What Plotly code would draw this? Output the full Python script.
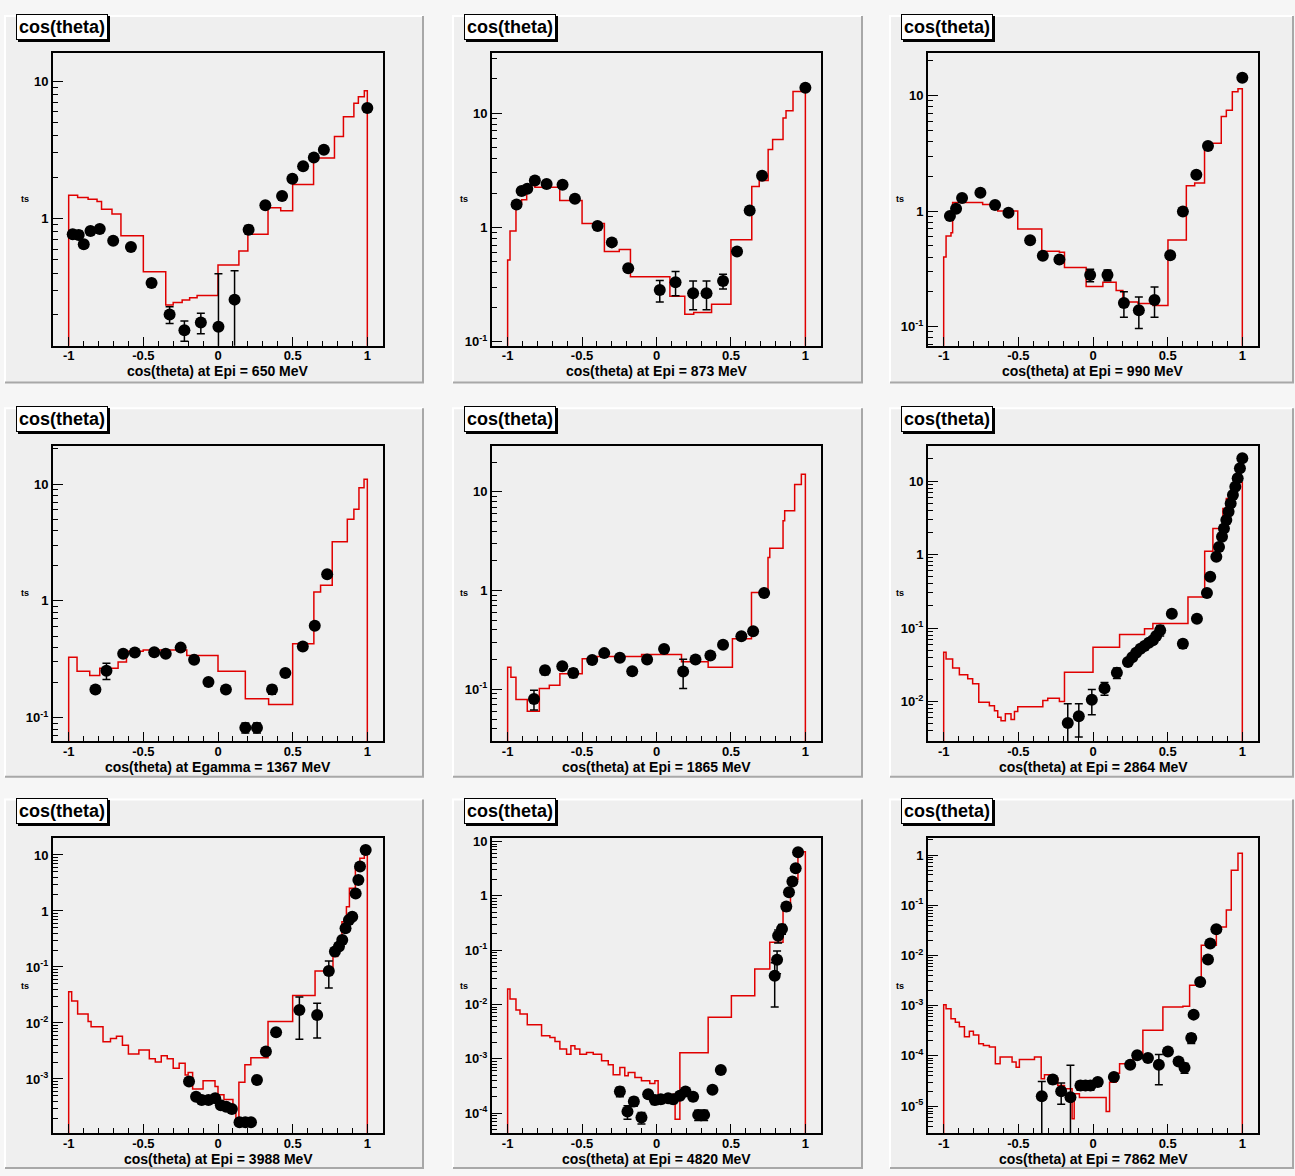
import math
import plotly.graph_objects as go

# ======================= DATA =======================
PAD_TITLE = "cos(theta)"
Y_AXIS_TITLE = "ts"
X_TITLES = [
    "cos(theta) at Epi = 650 MeV",
    "cos(theta) at Epi = 873 MeV",
    "cos(theta) at Epi = 990 MeV",
    "cos(theta) at Egamma = 1367 MeV",
    "cos(theta) at Epi = 1865 MeV",
    "cos(theta) at Epi = 2864 MeV",
    "cos(theta) at Epi = 3988 MeV",
    "cos(theta) at Epi = 4820 MeV",
    "cos(theta) at Epi = 7862 MeV",
]
X_TICKS = [-1, -0.5, 0, 0.5, 1]
X_TICK_TEXT = ["-1", "-0.5", "0", "0.5", "1"]
Y_DECADE_TEXT = {-5: "10<sup>-5</sup>", -4: "10<sup>-4</sup>", -3: "10<sup>-3</sup>",
                 -2: "10<sup>-2</sup>", -1: "10<sup>-1</sup>", 0: "1", 1: "10"}

# ---- panel 1 : Epi = 650 MeV
p1_edges = [-1, -0.94, -0.87, -0.81, -0.78, -0.71, -0.65, -0.5, -0.35, -0.30, -0.24, -0.19, -0.14,
            0.0, 0.14, 0.2, 0.335, 0.42, 0.5, 0.64, 0.78, 0.84, 0.91, 0.94, 0.98, 1.0]
p1_vals = [1.48, 1.42, 1.38, 1.33, 1.17, 1.08, 0.75, 0.41, 0.235, 0.245, 0.255, 0.265, 0.275,
           0.46, 0.58, 0.77, 1.2, 1.14, 1.77, 2.76, 3.96, 5.5, 6.9, 7.7, 8.5]
p1_x = [-0.973, -0.933, -0.899, -0.854, -0.792, -0.702, -0.583, -0.445, -0.324, -0.225, -0.115,
        0.003, 0.111, 0.205, 0.317, 0.429, 0.498, 0.570, 0.642, 0.709, 1.0]
p1_y = [0.77, 0.76, 0.65, 0.81, 0.84, 0.69, 0.62, 0.34, 0.20, 0.154, 0.175, 0.163, 0.257, 0.83,
        1.25, 1.46, 1.95, 2.40, 2.78, 3.17, 6.38]
p1_err = [0.05, 0.05, 0.04, 0.04, 0.04, 0.03, 0.03, 0.02, 0.028, 0.026, 0.03, 0.233, 0.16, 0.06,
          0.05, 0.05, 0.05, 0.05, 0.05, 0.05, 0.2]

# ---- panel 2 : Epi = 873 MeV
p2_edges = [-1, -0.984, -0.944, -0.906, -0.872, -0.85, -0.817, -0.65, -0.5, -0.35, -0.25, -0.175,
            0.09, 0.19, 0.25, 0.37, 0.5, 0.64, 0.69, 0.75, 0.78, 0.85, 0.87, 0.917, 1.0]
p2_vals = [0.52, 0.93, 1.61, 1.75, 2.1, 2.33, 2.25, 1.72, 1.08, 0.615, 0.64, 0.37, 0.25, 0.174,
           0.18, 0.213, 0.78, 2.28, 2.57, 4.8, 5.9, 9.1, 10.5, 15.5]
p2_x = [-0.940, -0.906, -0.868, -0.817, -0.738, -0.631, -0.548, -0.396, -0.300, -0.190, 0.022,
        0.128, 0.246, 0.336, 0.447, 0.541, 0.626, 0.709, 1.0]
p2_y = [1.59, 2.08, 2.18, 2.57, 2.40, 2.36, 1.78, 1.03, 0.74, 0.44, 0.283, 0.332, 0.265, 0.265,
        0.339, 0.615, 1.41, 2.84, 16.7]
p2_err = [0.1, 0.1, 0.1, 0.1, 0.1, 0.1, 0.08, 0.05, 0.04, 0.03, 0.06, 0.08, 0.075, 0.075, 0.05,
          0.04, 0.07, 0.15, 0.5]

# ---- panel 3 : Epi = 990 MeV
p3_edges = [-1, -0.984, -0.951, -0.940, -0.739, -0.638, -0.504, -0.343, -0.225, -0.191, -0.046,
            0.066, 0.155, 0.200, 0.301, 0.401, 0.502, 0.625, 0.681, 0.747, 0.859, 0.893, 0.933,
            0.971, 1.0]
p3_vals = [0.40, 0.61, 0.65, 1.19, 1.14, 1.0, 0.70, 0.45, 0.44, 0.325, 0.222, 0.242, 0.205, 0.163,
           0.158, 0.152, 0.563, 1.66, 1.75, 3.88, 6.6, 7.5, 10.8, 11.5]
p3_x = [-0.958, -0.917, -0.877, -0.754, -0.656, -0.566, -0.421, -0.336, -0.225, -0.019, 0.097,
        0.207, 0.307, 0.412, 0.517, 0.602, 0.692, 0.770, 1.0]
p3_y = [0.905, 1.05, 1.30, 1.44, 1.13, 0.97, 0.56, 0.41, 0.38, 0.279, 0.279, 0.160, 0.138, 0.170,
        0.415, 0.99, 2.07, 3.67, 14.3]
p3_err = [0.05, 0.05, 0.06, 0.06, 0.05, 0.04, 0.03, 0.025, 0.025, 0.035, 0.03, 0.04, 0.042, 0.05,
          0.03, 0.05, 0.1, 0.15, 0.5]

# ---- panel 4 : Egamma = 1367 MeV
p4_edges = [-1, -0.944, -0.859, -0.792, -0.669, -0.613, -0.501, -0.209, 0.0, 0.183, 0.339, 0.5,
            0.642, 0.687, 0.765, 0.866, 0.91, 0.944, 0.978, 1.0]
p4_vals = [0.33, 0.25, 0.23, 0.265, 0.30, 0.37, 0.38, 0.34, 0.25, 0.145, 0.13, 0.43, 1.19, 1.36,
           3.2, 5.0, 6.1, 9.3, 11.0]
p4_x = [-0.821, -0.747, -0.635, -0.557, -0.427, -0.350, -0.250, -0.160, -0.064, 0.053, 0.183,
        0.261, 0.362, 0.451, 0.568, 0.648, 0.731]
p4_y = [0.174, 0.252, 0.352, 0.361, 0.363, 0.352, 0.398, 0.313, 0.202, 0.174, 0.082, 0.082, 0.174,
        0.241, 0.406, 0.612, 1.69]
p4_err = [0.012, 0.04, 0.015, 0.015, 0.015, 0.015, 0.02, 0.02, 0.012, 0.012, 0.008, 0.008, 0.015,
          0.015, 0.02, 0.03, 0.08]

# ---- panel 5 : Epi = 1865 MeV
p5_edges = [-1, -0.978, -0.944, -0.868, -0.787, -0.72, -0.649, -0.499, -0.45, -0.40, -0.1, 0.168,
            0.347, 0.51, 0.638, 0.749, 0.761, 0.85, 0.861, 0.928, 0.973, 1.0]
p5_vals = [0.168, 0.133, 0.079, 0.060, 0.102, 0.110, 0.144, 0.204, 0.196, 0.215, 0.226, 0.19,
           0.168, 0.325, 0.96, 2.17, 2.68, 5.1, 6.43, 11.9, 15.1]
p5_x = [-0.823, -0.749, -0.633, -0.559, -0.432, -0.351, -0.246, -0.163, -0.063, 0.051, 0.179,
        0.262, 0.362, 0.447, 0.570, 0.649, 0.723]
p5_y = [0.080, 0.156, 0.172, 0.147, 0.199, 0.233, 0.209, 0.153, 0.201, 0.257, 0.152, 0.201, 0.221,
        0.283, 0.346, 0.388, 0.947]
p5_err = [0.018, 0.015, 0.012, 0.015, 0.01, 0.01, 0.01, 0.013, 0.01, 0.01, 0.05, 0.01, 0.01,
          0.012, 0.015, 0.02, 0.04]

# ---- panel 6 : Epi = 2864 MeV
p6_edges = [-1, -0.984, -0.940, -0.895, -0.839, -0.806, -0.765, -0.694, -0.660, -0.638, -0.616,
            -0.587, -0.549, -0.526, -0.504, -0.336, -0.303, -0.225, -0.191, 0.0, 0.178, 0.345,
            0.401, 0.636, 0.748, 0.803, 0.870, 0.893, 0.926, 0.960, 1.0]
p6_vals = [0.047, 0.038, 0.0285, 0.0231, 0.0204, 0.0174, 0.0098, 0.0088, 0.0075, 0.0061, 0.0055,
           0.0068, 0.0057, 0.0073, 0.0085, 0.0103, 0.0111, 0.010, 0.0251, 0.055, 0.082, 0.098,
           0.115, 0.265, 1.11, 2.26, 4.24, 5.8, 7.9, 9.6]
p6_x = [-0.169, -0.095, -0.008, 0.077, 0.160, 0.234, 0.263, 0.289, 0.318, 0.345, 0.374, 0.401,
        0.423, 0.450, 0.528, 0.602, 0.696, 0.763, 0.785, 0.826, 0.844, 0.864, 0.877, 0.893, 0.908,
        0.922, 0.937, 0.953, 0.969, 0.984, 1.0]
p6_y = [0.0051, 0.0063, 0.0106, 0.0152, 0.0246, 0.0344, 0.0402, 0.0461, 0.0523, 0.0569, 0.063,
        0.068, 0.078, 0.093, 0.157, 0.061, 0.134, 0.30, 0.50, 0.93, 1.27, 1.74, 2.26, 2.94, 3.82,
        4.96, 6.44, 8.37, 10.9, 14.9, 20.4]
p6_err = [0.0042, 0.003, 0.004, 0.003, 0.004, 0.002, 0.002, 0.002, 0.002, 0.003, 0.004, 0.005,
          0.006, 0.015, 0.01, 0.008, 0.008, 0.02, 0.03, 0.05, 0.06, 0.07, 0.08, 0.1, 0.12, 0.15,
          0.2, 0.25, 0.3, 0.4, 0.5]

# ---- panel 7 : Epi = 3988 MeV
p7_edges = [-1, -0.98, -0.94, -0.87, -0.85, -0.77, -0.72, -0.68, -0.64, -0.6, -0.53, -0.46, -0.42,
            -0.38, -0.34, -0.3, -0.26, -0.22, -0.2, -0.17, -0.1, -0.02, 0.0, 0.04, 0.1, 0.12, 0.14,
            0.18, 0.22, 0.335, 0.5, 0.65, 0.77, 0.8, 0.83, 0.86, 0.88, 0.92, 0.95, 0.98, 1.0]
p7_vals = [0.036, 0.0247, 0.0145, 0.0106, 0.0086, 0.0046, 0.0053, 0.0058, 0.004, 0.0028, 0.0033,
           0.0023, 0.002, 0.0026, 0.0023, 0.00155, 0.0019, 0.00118, 0.0013, 0.00066, 0.00093,
           0.00073, 0.00052, 0.00043, 0.00028, 0.00017, 0.00087, 0.0018, 0.0024, 0.0106, 0.031,
           0.085, 0.153, 0.247, 0.645, 1.19, 2.54, 5.8, 8.7, 11.5]
p7_x = [-0.194, -0.147, -0.109, -0.064, -0.019, 0.019, 0.055, 0.093, 0.144, 0.183, 0.221, 0.261,
        0.321, 0.389, 0.545, 0.664, 0.742, 0.783, 0.810, 0.832, 0.854, 0.877, 0.899, 0.922, 0.940,
        0.951, 0.989]
p7_y = [0.00090, 0.00048, 0.00042, 0.00042, 0.00045, 0.00034, 0.00032, 0.00029, 0.000168,
        0.000168, 0.000168, 0.00096, 0.00308, 0.0068, 0.0171, 0.0139, 0.085, 0.188, 0.231, 0.303,
        0.49, 0.69, 0.79, 2.06, 3.58, 6.2, 12.3]
p7_err = [0.0001, 0.00005, 0.00005, 0.00005, 0.00005, 0.00004, 0.00004, 0.00004, 0.00002, 0.00002,
          0.00002, 0.0001, 0.0003, 0.0007, 0.012, 0.0085, 0.043, 0.03, 0.03, 0.04, 0.05, 0.07,
          0.08, 0.15, 0.25, 0.4, 0.8]

# ---- panel 8 : Epi = 4820 MeV
p8_edges = [-1, -0.984, -0.944, -0.917, -0.868, -0.772, -0.716, -0.682, -0.649, -0.604, -0.575,
            -0.548, -0.515, -0.470, -0.425, -0.369, -0.324, -0.291, -0.246, -0.213, -0.190,
            -0.145, -0.101, -0.045, -0.011, 0.011, 0.067, 0.112, 0.125, 0.157, 0.347, 0.503,
            0.660, 0.761, 0.85, 0.9, 0.95, 1.0]
p8_vals = [0.0193, 0.0126, 0.0079, 0.0067, 0.00424, 0.00266, 0.00248, 0.00209, 0.00151, 0.00122,
           0.00174, 0.00151, 0.00122, 0.00131, 0.00122, 0.00092, 0.00078, 0.000509, 0.000695,
           0.000488, 0.000562, 0.000454, 0.000394, 0.000352, 0.000394, 0.000181, 0.000157,
           0.000224, 0.000077, 0.0013, 0.0058, 0.0145, 0.045, 0.14, 0.6, 2.0, 6.5]
p8_x = [-0.246, -0.195, -0.152, -0.101, -0.056, -0.011, 0.029, 0.078, 0.112, 0.157, 0.195, 0.246,
        0.280, 0.320, 0.376, 0.432, 0.794, 0.810, 0.817, 0.843, 0.872, 0.890, 0.913, 0.935, 0.951]
p8_y = [0.000251, 0.000107, 0.000164, 0.0000832, 0.000224, 0.000174, 0.000181, 0.000189,
        0.000181, 0.000209, 0.000251, 0.0002, 0.000093, 0.000093, 0.000269, 0.00062, 0.034,
        0.067, 0.185, 0.246, 0.634, 1.16, 1.83, 3.23, 6.36]
p8_err = [0.00005, 0.00003, 0.00003, 0.00002, 0.00003, 0.00003, 0.00003, 0.00003, 0.00003,
          0.00003, 0.00003, 0.00003, 0.00002, 0.00002, 0.00003, 0.00005, 0.025, 0.03, 0.05, 0.05,
          0.1, 0.15, 0.2, 0.3, 0.5]

# ---- panel 9 : Epi = 7862 MeV
p9_edges = [-1, -0.984, -0.951, -0.922, -0.895, -0.861, -0.828, -0.801, -0.765, -0.734, -0.694,
            -0.654, -0.622, -0.542, -0.515, -0.493, -0.392, -0.347, -0.325, -0.269, -0.236,
            -0.191, -0.140, -0.126, -0.091, 0.088, 0.111, 0.155, 0.178, 0.267, 0.334, 0.468,
            0.602, 0.647, 0.725, 0.826, 0.893, 0.926, 0.971, 1.0]
p9_vals = [0.00105, 0.00087, 0.00055, 0.00047, 0.00038, 0.00024, 0.00031, 0.00026, 0.000175,
           0.000162, 0.00015, 0.00007, 0.000095, 0.0000755, 0.0000595, 0.000085, 0.000095,
           0.0000351, 0.0000422, 0.000036, 0.0000258, 0.0000222, 0.0000056, 0.0000176,
           0.0000148, 0.0000078, 0.00003, 0.000045, 0.00007, 0.000095, 0.000323, 0.00094,
           0.00098, 0.00255, 0.016, 0.037, 0.08, 0.5, 1.08]
p9_x = [-0.343, -0.269, -0.213, -0.151, -0.084, -0.050, -0.017, 0.032, 0.140, 0.249, 0.296, 0.368,
        0.441, 0.502, 0.573, 0.613, 0.658, 0.674, 0.718, 0.770, 0.785, 0.826]
p9_y = [1.58e-5, 3.40e-5, 1.99e-5, 1.51e-5, 2.58e-5, 2.58e-5, 2.58e-5, 3.01e-5, 3.79e-5, 6.67e-5,
        1.03e-4, 9.06e-5, 6.67e-5, 1.23e-4, 7.78e-5, 5.82e-5, 2.27e-4, 6.64e-4, 2.97e-3, 8.3e-3,
        1.73e-2, 3.34e-2]
p9_err = [1.5e-5, 0.6e-5, 0.9e-5, 5e-5, 0.5e-5, 0.5e-5, 0.5e-5, 0.5e-5, 0.6e-5, 0.8e-5, 1e-5,
          1e-5, 4e-5, 1.2e-5, 0.8e-5, 1.3e-5, 0.5e-4, 0.6e-4, 0.3e-3, 0.8e-3, 1.5e-3, 3e-3]

PANELS = [
    (p1_edges, p1_vals, p1_x, p1_y, p1_err),
    (p2_edges, p2_vals, p2_x, p2_y, p2_err),
    (p3_edges, p3_vals, p3_x, p3_y, p3_err),
    (p4_edges, p4_vals, p4_x, p4_y, p4_err),
    (p5_edges, p5_vals, p5_x, p5_y, p5_err),
    (p6_edges, p6_vals, p6_x, p6_y, p6_err),
    (p7_edges, p7_vals, p7_x, p7_y, p7_err),
    (p8_edges, p8_vals, p8_x, p8_y, p8_err),
    (p9_edges, p9_vals, p9_x, p9_y, p9_err),
]

# ======================= LAYOUT GEOMETRY =======================
W, H = 1295, 1176
COL_FRAME = [(53, 383), (492, 821), (928, 1258)]
ROW_FRAME = [(49, 344), (445, 742), (840, 1137)]
COL_PAD = [(5, 423), (453, 862), (890, 1293)]
ROW_PAD = [(12, 381), (407, 778), (801, 1172)]
Y_LOG_RANGE = [(-0.925, 1.207), (-1.035, 1.53), (-1.166, 1.373),
               (-1.199, 1.326), (-1.522, 1.465), (-2.536, 1.477),
               (-3.97, 1.298), (-4.37, 1.06), (-5.54, 0.333)]
X_RANGE = [-1.105, 1.105]

FONT = "Liberation Sans, Arial, Helvetica, sans-serif"
RED = "#e00000"
PAD_BG = "#efefef"

def px(x):
    return x / W

def py(y):
    return 1 - y / H

fig = go.Figure()
shapes = []
annotations = []

x_minor = [round(-1 + 0.1 * k, 2) for k in range(21)]
x_minor = [v for v in x_minor if v not in X_TICKS]

for i, (edges, vals, dx, dy, de) in enumerate(PANELS):
    assert len(edges) == len(vals) + 1, (i, len(edges), len(vals))
    assert len(dx) == len(dy) == len(de), (i, len(dx), len(dy), len(de))
    r, c = divmod(i, 3)
    n = "" if i == 0 else str(i + 1)
    lo, hi = Y_LOG_RANGE[i]
    floor_val = 10 ** (lo - 2)

    # step histogram
    hx = [edges[0]] + list(edges[:-1]) + [edges[-1], edges[-1]]
    hy = [floor_val] + list(vals) + [vals[-1], floor_val]
    fig.add_trace(go.Scatter(x=hx, y=hy, mode="lines", line=dict(color=RED, width=1.5, shape="hv"),
                             xaxis="x" + n, yaxis="y" + n, showlegend=False, hoverinfo="skip"))
    # data points
    fig.add_trace(go.Scatter(x=dx, y=dy, mode="markers",
                             marker=dict(symbol="circle", size=12, color="black"),
                             error_y=dict(type="data", array=de, visible=True, color="black",
                                          thickness=1.5, width=4),
                             xaxis="x" + n, yaxis="y" + n, showlegend=False))

    fx0, fx1 = COL_FRAME[c]
    fy0, fy1 = ROW_FRAME[r]
    majors = [d for d in range(math.ceil(lo), math.floor(hi) + 1)]
    yticks = [10 ** d for d in majors]
    ytext = [Y_DECADE_TEXT[d] for d in majors]
    yminor = []
    for d in range(math.floor(lo), math.ceil(hi) + 1):
        for m in range(2, 10):
            v = m * 10 ** d
            if lo <= math.log10(v) <= hi:
                yminor.append(v)

    fig.layout["xaxis" + n] = dict(
        domain=[px(fx0), px(fx1)], range=X_RANGE, anchor="y" + n,
        showline=True, linecolor="black", linewidth=2, mirror=True,
        ticks="inside", ticklen=9, tickwidth=1.3, tickcolor="black",
        tickmode="array", tickvals=X_TICKS, ticktext=X_TICK_TEXT,
        ticklabelstandoff=-3,
        tickfont=dict(family=FONT, size=13, color="black", weight="bold"),
        minor=dict(ticks="inside", ticklen=5, tickwidth=1.3, tickcolor="black",
                   tickmode="array", tickvals=x_minor),
        showgrid=False, zeroline=False, fixedrange=True)
    fig.layout["yaxis" + n] = dict(
        domain=[py(fy1), py(fy0)], type="log", range=[lo, hi], anchor="x" + n,
        showline=True, linecolor="black", linewidth=2, mirror=True,
        ticks="inside", ticklen=10, tickwidth=1.3, tickcolor="black",
        tickmode="array", tickvals=yticks, ticktext=ytext,
        tickfont=dict(family=FONT, size=13, color="black", weight="bold"),
        minor=dict(ticks="inside", ticklen=5, tickwidth=1.3, tickcolor="black",
                   tickmode="array", tickvals=yminor),
        showgrid=False, zeroline=False, fixedrange=True)

    # pad background and bevel
    ax0, ax1 = COL_PAD[c]
    ay0, ay1 = ROW_PAD[r]
    shapes.append(dict(type="rect", xref="paper", yref="paper", x0=px(ax0), x1=px(ax1),
                       y0=py(ay1), y1=py(ay0), fillcolor=PAD_BG, line=dict(width=0), layer="below"))
    shapes.append(dict(type="path", xref="paper", yref="paper", layer="below",
                       path=f"M {px(ax0)} {py(ay1)} L {px(ax0)} {py(ay0)} L {px(ax1)} {py(ay0)}",
                       line=dict(color="white", width=2)))
    shapes.append(dict(type="path", xref="paper", yref="paper", layer="below",
                       path=f"M {px(ax0)} {py(ay1)} L {px(ax1)} {py(ay1)} L {px(ax1)} {py(ay0)}",
                       line=dict(color="#a8a8a8", width=2)))

    # pad title box with shadow
    tx, ty = ax0 + 11, ay0 - 2
    annotations.append(dict(text=PAD_TITLE, xref="paper", yref="paper", x=px(tx + 2), y=py(ty + 2),
                            xanchor="left", yanchor="top", showarrow=False,
                            font=dict(family=FONT, size=18, color="black", weight="bold"),
                            bgcolor="black", bordercolor="black", borderwidth=1, borderpad=2))
    annotations.append(dict(text=PAD_TITLE, xref="paper", yref="paper", x=px(tx), y=py(ty),
                            xanchor="left", yanchor="top", showarrow=False,
                            font=dict(family=FONT, size=18, color="black", weight="bold"),
                            bgcolor="white", bordercolor="black", borderwidth=1, borderpad=2))
    # x axis title
    annotations.append(dict(text=X_TITLES[i], xref="paper", yref="paper",
                            x=px((fx0 + fx1) / 2), y=py(fy1 + 26),
                            xanchor="center", yanchor="middle", showarrow=False,
                            font=dict(family=FONT, size=14, color="black", weight="bold")))
    # y axis title
    annotations.append(dict(text=Y_AXIS_TITLE, xref="paper", yref="paper",
                            x=px(fx0 - 28), y=py((fy0 + fy1) / 2),
                            xanchor="center", yanchor="middle", showarrow=False,
                            font=dict(family=FONT, size=9, color="black", weight="bold")))

fig.update_layout(
    width=W, height=H, margin=dict(l=0, r=0, t=0, b=0),
    paper_bgcolor="#f6f6f6", plot_bgcolor=PAD_BG,
    shapes=shapes, annotations=annotations, showlegend=False,
)
fig.write_html("out.html")
